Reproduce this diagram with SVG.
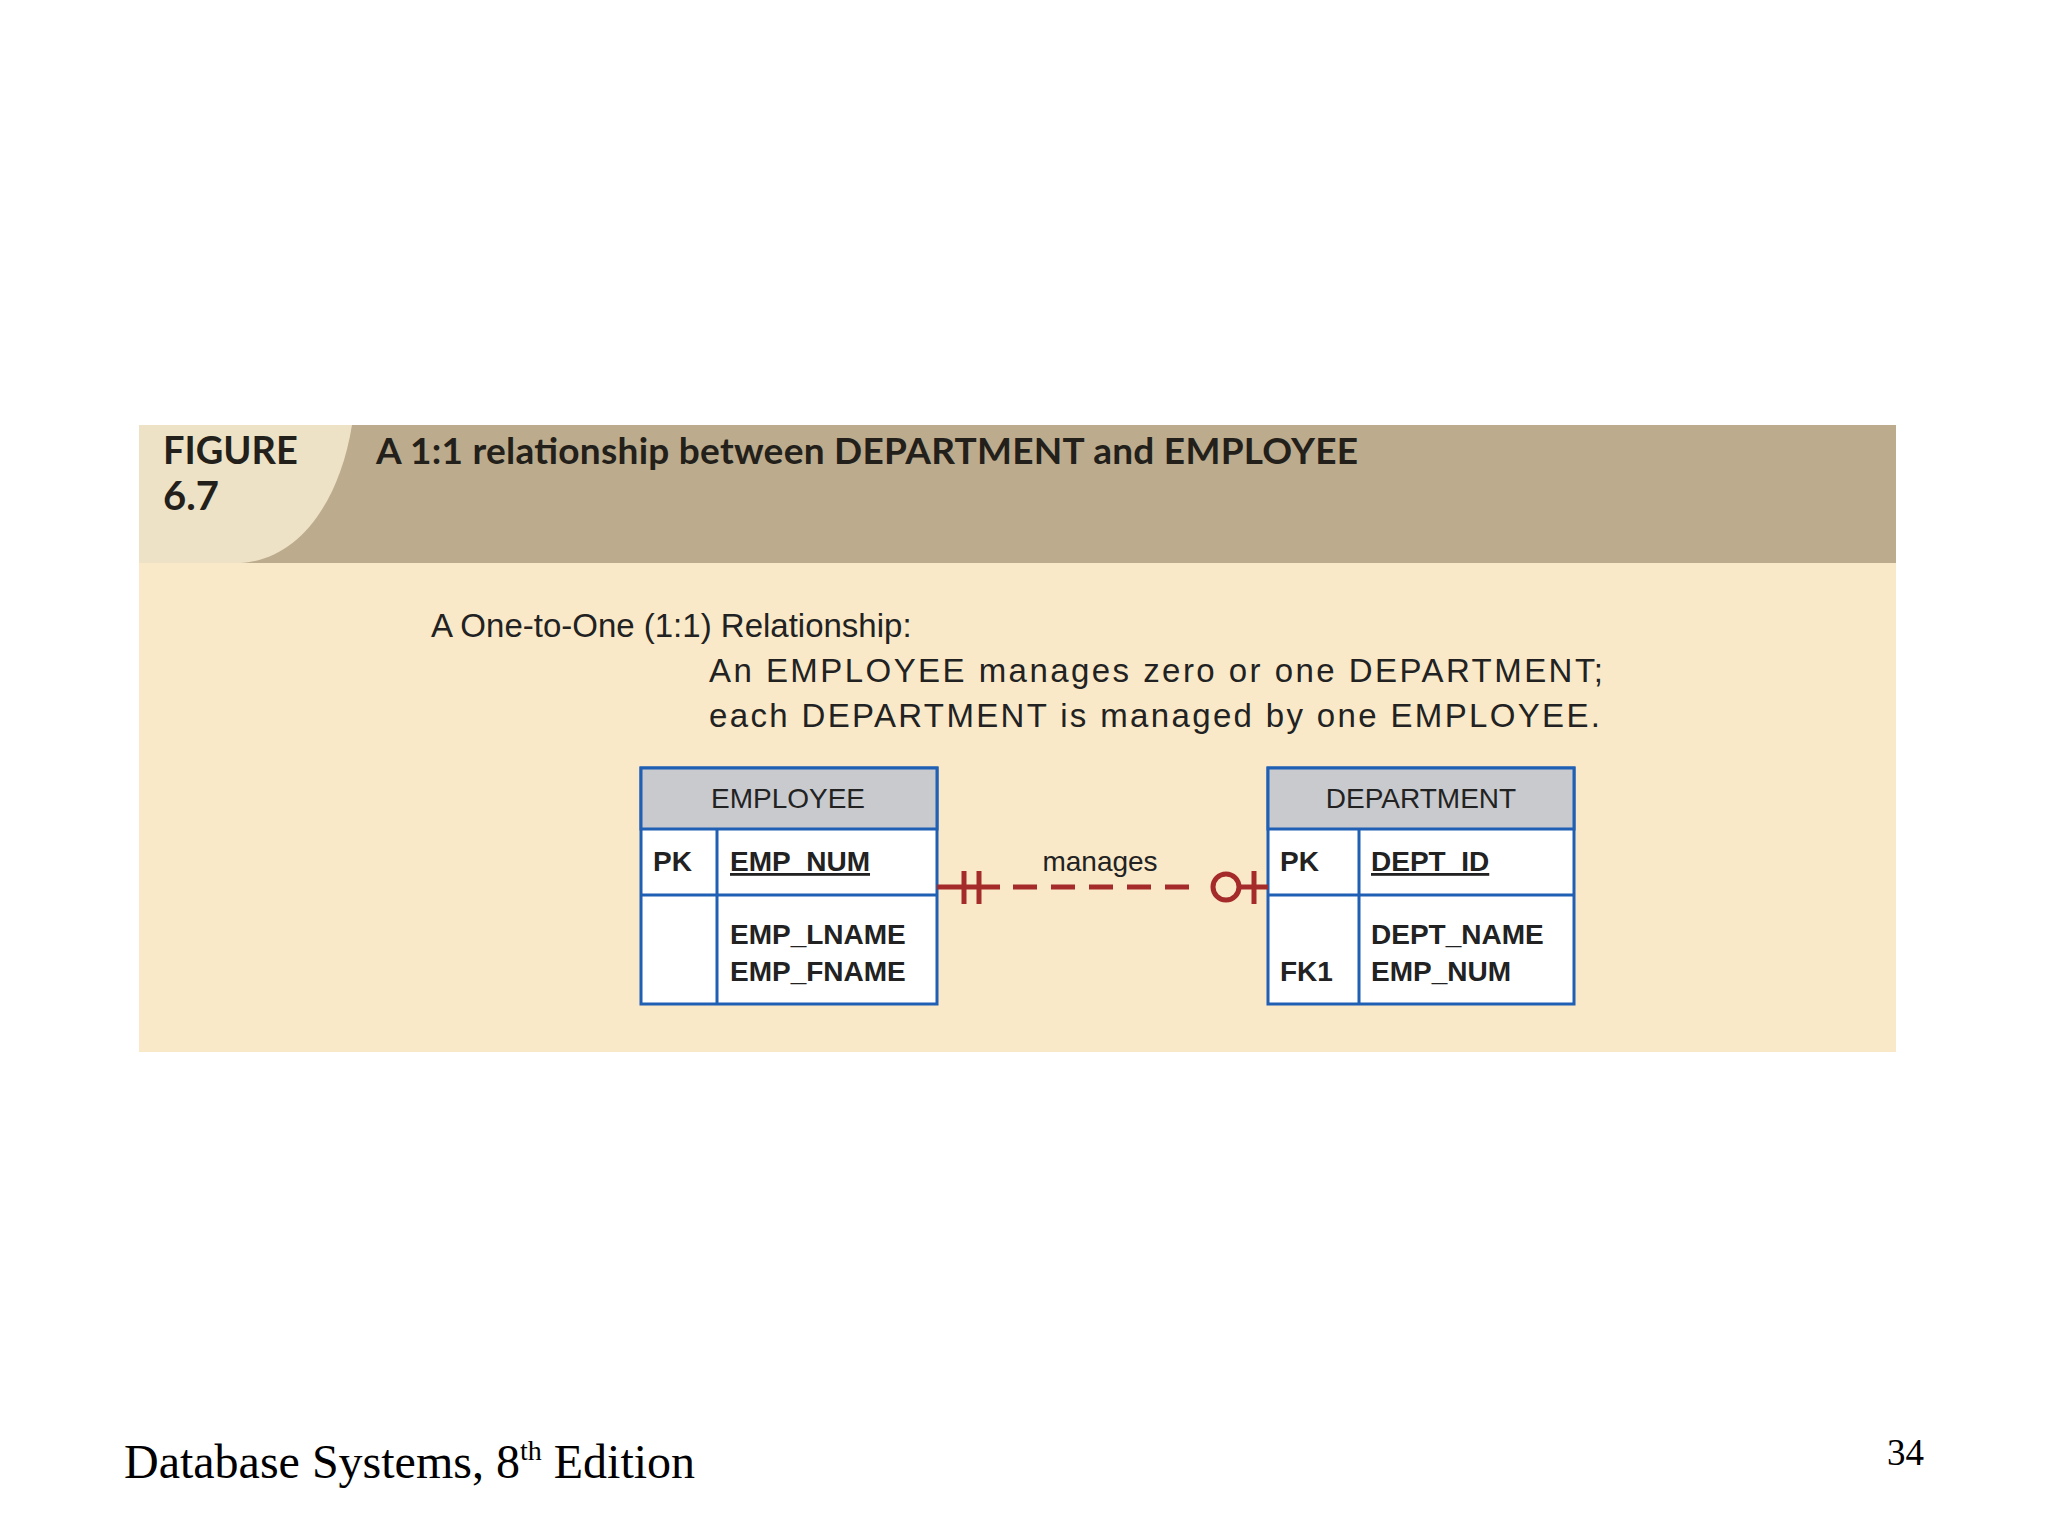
<svg xmlns="http://www.w3.org/2000/svg" width="2048" height="1536" viewBox="0 0 2048 1536">
<style>
.hd{font-family:"Lato","Liberation Sans",sans-serif;font-weight:bold;fill:#231f1a}
.b{font-family:"Liberation Sans",Arial,sans-serif;fill:#222}
.tb{fill:#fff;stroke:#1f5fb4;stroke-width:3}
.th{fill:#c8cace;stroke:#1f5fb4;stroke-width:3}
.ln{stroke:#1f5fb4;stroke-width:3}
.f{font-family:"Liberation Sans",Arial,sans-serif;font-weight:bold;font-size:28px;fill:#222}
.rel{stroke:#a52a2a;stroke-width:5;fill:none}
</style>
<rect width="2048" height="1536" fill="#fff"/>
<g id="panel">
<rect x="139" y="425" width="1757" height="627" fill="#f9e9c8"/>
<rect x="139" y="425" width="1757" height="138" fill="#bcab8c"/>
<path d="M139 425 H352 C340 500 300 560 240 563 H139 Z" fill="#ede1c6"/>
<text class="hd" x="163" y="464" font-size="38">FIGURE</text>
<text class="hd" x="163" y="510" font-size="40">6.7</text>
<text class="hd" x="376" y="464" font-size="37" textLength="982">A 1:1 relationship between DEPARTMENT and EMPLOYEE</text>
<text class="b" x="431" y="637" font-size="33">A One-to-One (1:1) Relationship:</text>
<text class="b" x="709" y="682" font-size="33" textLength="894">An EMPLOYEE manages zero or one DEPARTMENT;</text>
<text class="b" x="709" y="727" font-size="33" textLength="891">each DEPARTMENT is managed by one EMPLOYEE.</text>
</g>
<g id="employee">
<rect class="tb" x="641" y="768" width="296" height="236"/>
<rect class="th" x="641" y="768" width="296" height="61"/>
<line class="ln" x1="641" y1="895" x2="937" y2="895"/>
<line class="ln" x1="717" y1="829" x2="717" y2="1004"/>
<text class="b" x="788" y="808" font-size="28" text-anchor="middle">EMPLOYEE</text>
<text class="f" x="653" y="871">PK</text>
<text class="f" x="730" y="871" text-decoration="underline">EMP_NUM</text>
<text class="f" x="730" y="944">EMP_LNAME</text>
<text class="f" x="730" y="981">EMP_FNAME</text>
</g>
<g id="department">
<rect class="tb" x="1268" y="768" width="306" height="236"/>
<rect class="th" x="1268" y="768" width="306" height="61"/>
<line class="ln" x1="1268" y1="895" x2="1574" y2="895"/>
<line class="ln" x1="1359" y1="829" x2="1359" y2="1004"/>
<text class="b" x="1421" y="808" font-size="28" text-anchor="middle">DEPARTMENT</text>
<text class="f" x="1280" y="871">PK</text>
<text class="f" x="1371" y="871" text-decoration="underline">DEPT_ID</text>
<text class="f" x="1371" y="944">DEPT_NAME</text>
<text class="f" x="1280" y="981">FK1</text>
<text class="f" x="1371" y="981">EMP_NUM</text>
</g>
<g id="connectors">
<line class="rel" x1="937" y1="887" x2="1000" y2="887"/>
<line class="rel" x1="964" y1="871" x2="964" y2="904"/>
<line class="rel" x1="979" y1="871" x2="979" y2="904"/>
<line class="rel" x1="1013" y1="887" x2="1198" y2="887" stroke-dasharray="24,14"/>
<circle class="rel" cx="1226" cy="887" r="13"/>
<line class="rel" x1="1239" y1="887" x2="1268" y2="887"/>
<line class="rel" x1="1254" y1="871" x2="1254" y2="904"/>
<text class="b" x="1100" y="871" font-size="28" text-anchor="middle">manages</text>
</g>
<text x="124" y="1478" font-family="Liberation Serif,serif" font-size="48" fill="#000">Database Systems, 8<tspan font-size="28" dy="-18">th</tspan><tspan dy="18"> Edition</tspan></text>
<text x="1887" y="1465" font-family="Liberation Serif,serif" font-size="37" fill="#000">34</text>
</svg>
